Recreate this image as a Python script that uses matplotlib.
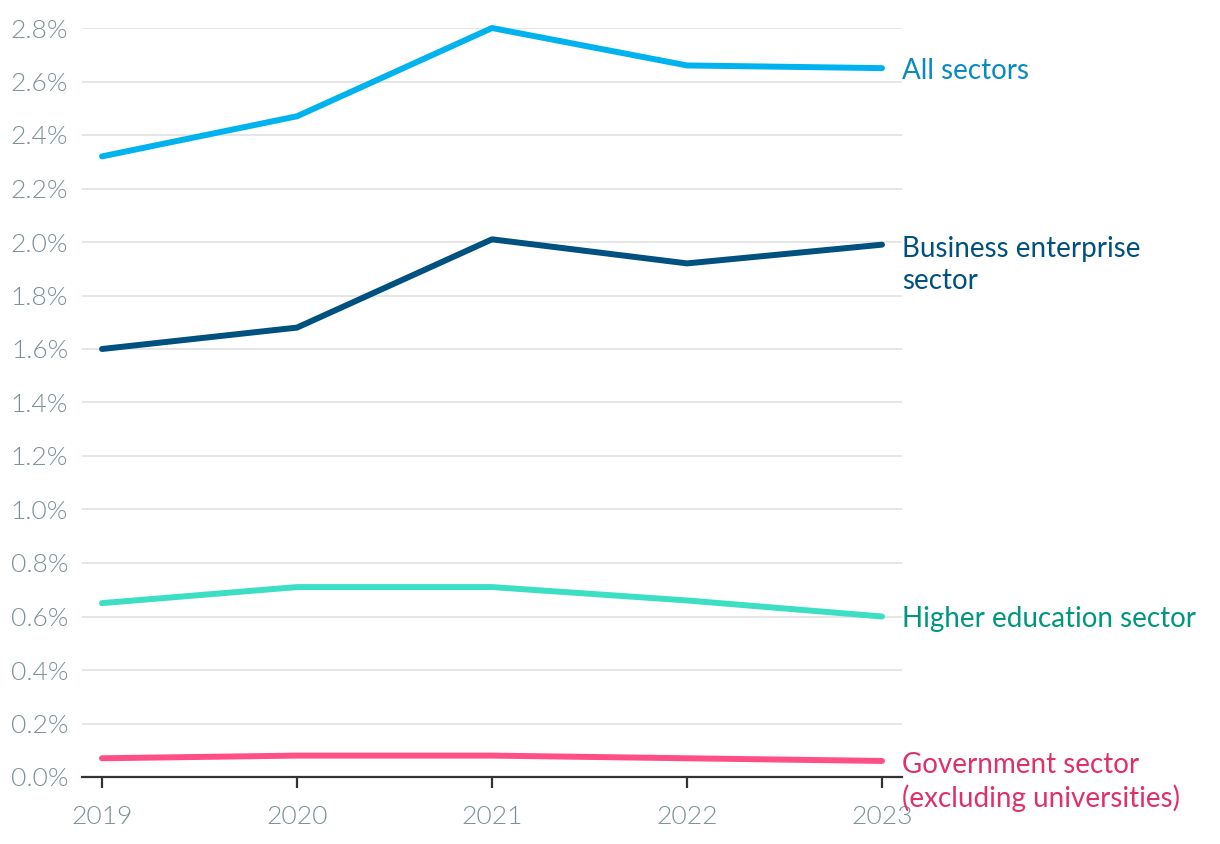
import matplotlib
matplotlib.use("Agg")
import matplotlib.pyplot as plt
from matplotlib.ticker import FuncFormatter, MultipleLocator

# ---- data ----
years = [2019, 2020, 2021, 2022, 2023]
all_sectors = [2.32, 2.47, 2.80, 2.66, 2.65]
business = [1.60, 1.68, 2.01, 1.92, 1.99]
higher_ed = [0.65, 0.71, 0.71, 0.66, 0.60]
government = [0.07, 0.08, 0.08, 0.07, 0.06]

series_names = ["All sectors", "Business enterprise\nsector",
                "Higher education sector", "Government sector\n(excluding universities)"]
line_colors = ["#00b3ee", "#00517f", "#3ddfc4", "#ff4f86"]
text_colors = ["#0a8bbf", "#00517f", "#00977d", "#e03068"]

plt.rcParams['font.family'] = ['Lato', 'DejaVu Sans']

fig = plt.figure(figsize=(12.2, 8.44), dpi=100)
ax = fig.add_axes([82 / 1220, 1 - 777 / 844, 820 / 1220, (777 - 28) / 844])

# lignes + etiquettes en bout de ligne
for vals, name, lc, tc in zip([all_sectors, business, higher_ed, government],
                              series_names, line_colors, text_colors):
    ax.plot(years, vals, color=lc, lw=4.3, solid_capstyle='round',
            solid_joinstyle='round', clip_on=False, zorder=3)
    if "\n" in name:
        ax.annotate(name, xy=(1, vals[-1]), xycoords=('axes fraction', 'data'),
                    xytext=(0, 6.5), textcoords='offset points',
                    ha='left', va='top', color=tc, fontsize=20, linespacing=1.3)
    else:
        ax.annotate(name, xy=(1, vals[-1]), xycoords=('axes fraction', 'data'),
                    xytext=(0, -2), textcoords='offset points',
                    ha='left', va='center', color=tc, fontsize=20)

ax.set_xlim(2019 - 0.1026, 2023 + 0.1026)
ax.set_ylim(0, 2.8)
ax.yaxis.set_major_locator(MultipleLocator(0.2))
ax.yaxis.set_major_formatter(FuncFormatter(lambda v, p: f"{v:.1f}%"))
ax.set_xticks(years)

ax.grid(axis='y', color='#e4e4e4', lw=1.3)
ax.set_axisbelow(True)
for s in ['top', 'right', 'left']:
    ax.spines[s].set_visible(False)
ax.spines['bottom'].set_color('#333333')
ax.spines['bottom'].set_linewidth(1.6)

ax.tick_params(axis='y', length=0, pad=10, labelsize=19, labelcolor='#7b9097')
ax.tick_params(axis='x', length=8, width=1.6, color='#333333', pad=12,
               labelsize=19, labelcolor='#7b9097')
for lab in ax.get_xticklabels() + ax.get_yticklabels():
    lab.set_fontweight(300)

fig.savefig("out.png", dpi=100)
